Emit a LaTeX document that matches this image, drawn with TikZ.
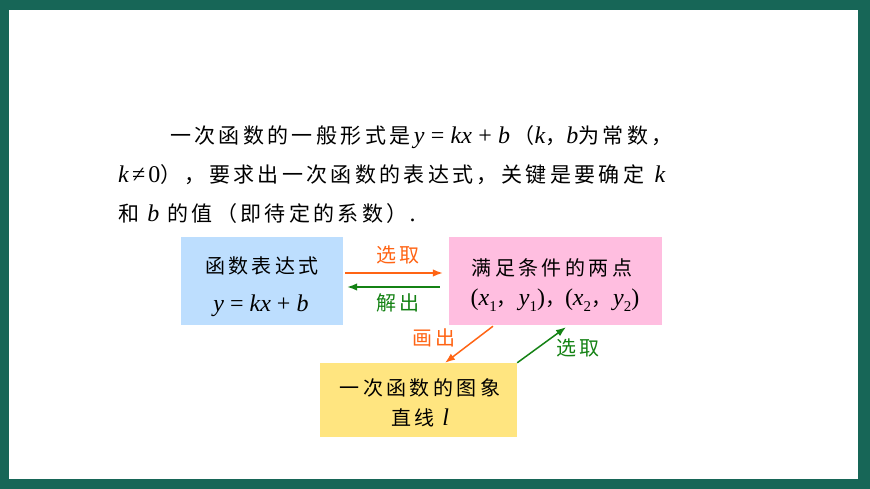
\documentclass[tikz,border=0pt]{standalone}
\usepackage{fontspec}
\usetikzlibrary{arrows.meta}
\newfontfamily\cjkpara[LetterSpace=16]{Noto Sans CJK SC}
\newfontfamily\cjkbox[LetterSpace=17]{Noto Sans CJK SC}
\newfontfamily\tms{Liberation Serif}
\def\msz{23}
\newcommand\vi[1]{{\fontsize{\msz}{\msz}\selectfont\tms\itshape #1}}
\newcommand\vo[1]{{\fontsize{\msz}{\msz}\selectfont\tms #1}}
\newcommand\vsub[1]{\raisebox{-0.28em}{\fontsize{15}{15}\selectfont\tms #1}}
\newcommand\mgap{\hspace{0.3em}}
\definecolor{frameteal}{RGB}{23,102,87}
\definecolor{boxblue}{RGB}{189,222,254}
\definecolor{boxpink}{RGB}{255,190,224}
\definecolor{boxyellow}{RGB}{255,229,128}
\definecolor{arrorange}{RGB}{255,100,20}
\definecolor{arrgreen}{RGB}{20,130,20}
\tikzset{
  para/.style={anchor=base west, inner sep=0pt, font=\def\msz{24}\fontsize{21}{25}\selectfont\cjkpara},
  boxshape/.style={draw=none, inner sep=0pt, rectangle},
  boxtext/.style={inner sep=0pt, font=\def\msz{24}\fontsize{20}{24}\selectfont\cjkbox},
  lbl/.style={inner sep=0pt, font=\fontsize{20}{24}\selectfont\cjkbox},
  arr/.style={line width=1.5pt, -{Latex[length=10pt,width=7.5pt]}},
}
\begin{document}
\begin{tikzpicture}[x=1pt,y=-1pt]
\useasboundingbox (0,0) rectangle (870,489);
% frame
\fill[frameteal] (0,0) rectangle (870,489);
\fill[white] (9,10) rectangle (858,479);
% paragraph
\node[para] (p1) at (170,144) {一次函数的一般形式是\,\vi{y}\mgap\vo{=}\mgap\vi{kx}\mgap\vo{+}\mgap\vi{b}\,（\vi{k}，\vi{b}为常数，};
\node[para] (p2) at (118,183) {\vi{k}\hspace{0.15em}\vo{≠}\hspace{0.15em}\vo{0}），要求出一次函数的表达式，关键是要确定\hspace{0.5em}\vi{k}};
\node[para] (p3) at (118,222) {和 \vi{b} 的值（即待定的系数）\hspace{0.1em}\vo{.}};
% boxes
\node[boxshape, fill=boxblue, minimum width=162pt, minimum height=88pt] (blue) at (262,281) {};
\node[boxshape, fill=boxpink, minimum width=213pt, minimum height=88pt] (pink) at (555.5,281) {};
\node[boxshape, fill=boxyellow, minimum width=197pt, minimum height=74pt] (yellow) at (418.5,400) {};
% box texts
\node[boxtext] (blueA) at (262,266) {函数表达式};
\node[boxtext] (blueB) at (261,306) {\vi{y}\mgap\vo{=}\mgap\vi{kx}\mgap\vo{+}\mgap\vi{b}};
\node[boxtext] (pinkA) at (552,268) {满足条件的两点};
\node[boxtext] (pinkB) at (555,300) {\vo{(}\vi{x}\vsub{1}，\hspace{0.1em}\vi{y}\vsub{1}\vo{)}，\vo{(}\vi{x}\vsub{2}，\hspace{0.1em}\vi{y}\vsub{2}\vo{)}};
\node[boxtext] (yellowA) at (420,388) {一次函数的图象};
\node[boxtext] (yellowB) at (420,418) {直线 \vi{l}};
% arrows
\draw[arr, arrorange] ([xshift=2pt,yshift=8pt]blue.east) -- ([xshift=-6pt,yshift=8pt]pink.west);
\draw[arr, arrgreen] ([xshift=-9pt,yshift=-6pt]pink.west) -- ([xshift=4pt,yshift=-6pt]blue.east);
\draw[arr, arrorange] ([xshift=-62.5pt,yshift=-1pt]pink.south) -- ([xshift=26.5pt]yellow.north);
\draw[arr, arrgreen] (yellow.north east) -- ([xshift=10.5pt,yshift=-2pt]pink.south);
% labels
\node[lbl, text=arrorange] (l1) at (398,255) {选取};
\node[lbl, text=arrgreen] (l2) at (398,303) {解出};
\node[lbl, text=arrorange] (l3) at (434,338) {画出};
\node[lbl, text=arrgreen] (l4) at (578,348) {选取};
\end{tikzpicture}
\end{document}
